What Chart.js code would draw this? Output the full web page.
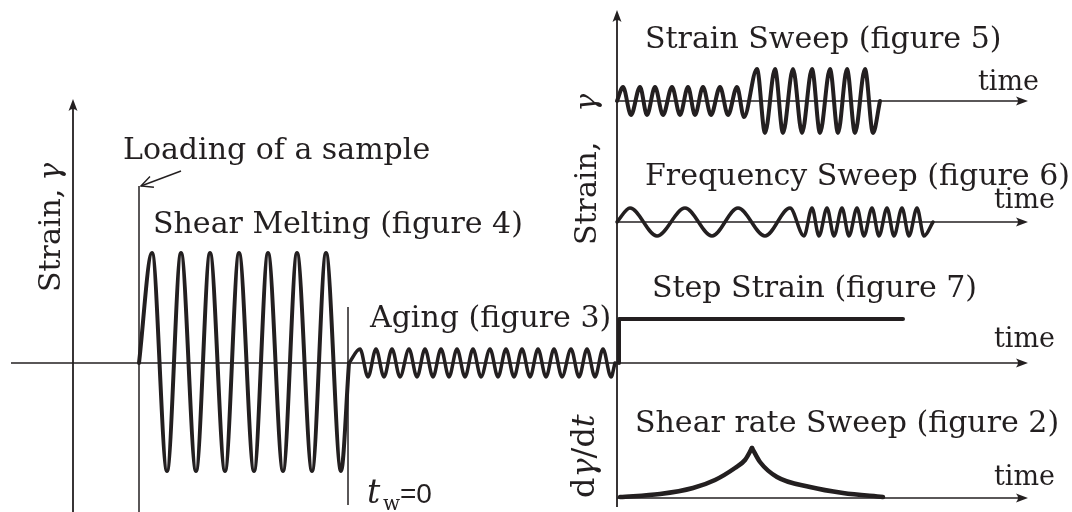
<!DOCTYPE html>
<html>
<head>
<meta charset="utf-8">
<script src="https://cdn.jsdelivr.net/npm/chart.js@4/dist/chart.umd.min.js"></script>
<style>
  html, body { margin: 0; padding: 0; background: #fff; }
  #wrap { width: 1072px; height: 512px; }
</style>
</head>
<body>
<div id="wrap"><canvas id="protocol"></canvas></div>
<script>
// turning points of each strain programme: time, and the strain reached there
const meltTime = [139, 152, 167, 181, 196, 210, 225, 239, 254, 268, 283, 297, 312, 326, 341, 349];
const meltStrain = [0, 110, -108, 110, -108, 110, -108, 110, -108, 110, -108, 110, -108, 110, -108, 0];

const agingTime = [349, 360, 368, 376, 384, 392, 400, 409, 417, 425, 433, 441, 449, 457, 465, 473, 481,
  490, 498, 506, 514, 522, 530, 538, 546, 554, 562, 571, 579, 587, 595, 603, 611, 615];
const agingStrain = [0, 14, -14, 14, -14, 14, -14, 14, -14, 14, -14, 14, -14, 14, -14, 14, -14,
  14, -14, 14, -14, 14, -14, 14, -14, 14, -14, 14, -14, 14, -14, 14, -14, 0];

const sweepTime = [617, 623, 631, 640, 647, 655, 663, 672, 680, 688, 695, 703, 711, 720, 728, 737, 744,
  757, 765, 775, 783, 793, 802, 812, 820, 830, 838, 847, 855, 865, 873, 880];
const sweepStrain = [0, 14, -14, 14, -14, 14, -14, 14, -14, 14, -14, 14, -14, 14, -14, 14, -16,
  32, -32, 32, -32, 32, -32, 32, -32, 32, -32, 32, -32, 32, -32, 0];

const freqTime = [617, 630, 657, 685, 712, 738, 765, 790, 804, 812, 819, 827, 834, 842, 849, 857, 864,
  872, 879, 887, 894, 902, 909, 917, 924, 933];
const freqStrain = [0, 14, -14, 14, -14, 14, -14, 14, -14, 14, -14, 14, -14, 14, -14, 14, -14,
  14, -14, 14, -14, 14, -14, 14, -14, 0];

const stepTime = [619, 619, 903];
const stepStrain = [0, 44, 44];

const rateRiseTime = [620, 660, 693, 715, 735, 745, 752];
const rateRise = [1, 4, 10, 18, 30, 38, 50];
const rateFallTime = [752, 760, 777, 810, 843, 883];
const rateFall = [50, 36, 21, 11, 5, 1];

const titles = ['Loading of a sample', 'Shear Melting (figure 4)', 'Aging (figure 3)',
  'Strain Sweep (figure 5)', 'Frequency Sweep (figure 6)', 'Step Strain (figure 7)',
  'Shear rate Sweep (figure 2)'];

const ink = '#231f20';
const serif = '"DejaVu Serif", serif';

const pts = (xs, ys) => xs.map((x, i) => ({ x: x, y: ys[i] }));

function wave(xs, ys, axis, width, smooth) {
  return {
    data: pts(xs, ys),
    yAxisID: axis,
    borderColor: ink,
    borderWidth: width,
    borderCapStyle: 'round',
    borderJoinStyle: 'round',
    pointRadius: 0,
    fill: false,
    cubicInterpolationMode: smooth ? 'monotone' : 'default',
    tension: 0,
  };
}

function arrowHead(ctx, x, y, angle) {
  ctx.save();
  ctx.translate(x, y);
  ctx.rotate(angle);
  ctx.beginPath();
  ctx.moveTo(0, 0);
  ctx.lineTo(-12, -4.5);
  ctx.quadraticCurveTo(-8, 0, -12, 4.5);
  ctx.closePath();
  ctx.fill();
  ctx.restore();
}

// axes, the loading marker and the t_w = 0 marker
const axesPlugin = {
  id: 'axes',
  beforeDatasetsDraw(chart) {
    const ctx = chart.ctx;
    const px = v => chart.scales.x.getPixelForValue(v);
    const py = (id, v) => chart.scales[id].getPixelForValue(v);
    const seg = (x1, y1, x2, y2, w) => {
      ctx.lineWidth = w;
      ctx.beginPath();
      ctx.moveTo(x1, y1);
      ctx.lineTo(x2, y2);
      ctx.stroke();
    };
    ctx.save();
    ctx.strokeStyle = ink;
    ctx.fillStyle = ink;
    ctx.lineCap = 'butt';

    // left strain axis and shared time axis
    seg(px(11), py('yMain', 0), px(1020), py('yMain', 0), 1.5);
    arrowHead(ctx, px(1028), py('yMain', 0), 0);
    seg(px(73), py('yMain', -149), px(73), py('yMain', 258), 1.8);
    arrowHead(ctx, px(73), py('yMain', 264), -Math.PI / 2);

    // loading of the sample and start of aging
    seg(px(139), py('yMain', -149), px(139), py('yMain', 177), 1.5);
    seg(px(348), py('yMain', 56), px(348), py('yMain', -142), 1.5);
    seg(px(181), py('yMain', 192), px(141), py('yMain', 177), 1.4);
    const ang = Math.atan2(py('yMain', 177) - py('yMain', 192), px(141) - px(181));
    ctx.lineWidth = 1.4;
    ctx.beginPath();
    ctx.moveTo(px(141) - 13 * Math.cos(ang - 0.45), py('yMain', 177) - 13 * Math.sin(ang - 0.45));
    ctx.lineTo(px(141), py('yMain', 177));
    ctx.lineTo(px(141) - 13 * Math.cos(ang + 0.45), py('yMain', 177) - 13 * Math.sin(ang + 0.45));
    ctx.stroke();

    // right hand panels
    seg(px(617), py('yRate', -9), px(617), py('ySweep', 86), 1.8);
    arrowHead(ctx, px(617), py('ySweep', 91), -Math.PI / 2);
    ['ySweep', 'yFreq', 'yRate'].forEach(id => {
      seg(px(617), py(id, 0), px(1020), py(id, 0), 1.5);
      arrowHead(ctx, px(1028), py(id, 0), 0);
    });
    ctx.restore();
  },
  afterDatasetsDraw(chart) {
    const ctx = chart.ctx;
    ctx.save();
    ctx.fillStyle = ink;
    ctx.textBaseline = 'alphabetic';
    ctx.textAlign = 'left';

    ctx.font = '30px ' + serif;
    ctx.fillText(titles[0], 123, 159);
    ctx.fillText(titles[1], 153, 233);
    ctx.fillText(titles[2], 370, 327);
    ctx.fillText(titles[3], 645, 48);
    ctx.fillText(titles[4], 645, 185);
    ctx.fillText(titles[5], 652, 297);
    ctx.fillText(titles[6], 635, 432);

    ctx.font = '27px ' + serif;
    ctx.fillText('time', 978, 90);
    ctx.fillText('time', 994, 208);
    ctx.fillText('time', 994, 347);
    ctx.fillText('time', 994, 485);

    // rotated axis titles, built from upright and italic pieces
    const vertical = (x, y, size, parts) => {
      ctx.save();
      ctx.translate(x, y);
      ctx.rotate(-Math.PI / 2);
      let off = 0;
      parts.forEach(p => {
        ctx.font = (p[1] ? 'italic ' : '') + size + 'px ' + serif;
        ctx.fillText(p[0], off, 0);
        off += ctx.measureText(p[0]).width + (p[2] || 0);
      });
      ctx.restore();
    };
    vertical(60, 292, 30, [['Strain,', false, 8], ['\u03b3', true]]);
    vertical(596, 245, 30, [['Strain,', false, 30], ['\u03b3', true]]);
    vertical(594, 498, 32, [['d', false], ['\u03b3', true], ['/d', false], ['t', true]]);

    // t_w = 0
    ctx.font = 'italic 33px ' + serif;
    ctx.fillText('t', 367, 503);
    ctx.font = '20px ' + serif;
    ctx.fillText('w', 383, 510);
    ctx.font = '28px "Liberation Sans", sans-serif';
    ctx.fillText('=0', 400, 503);
    ctx.restore();
  }
};

new Chart(document.getElementById('protocol'), {
  type: 'line',
  data: {
    datasets: [
      wave(meltTime, meltStrain, 'yMain', 4, true),
      wave(agingTime, agingStrain, 'yMain', 3.5, true),
      wave(sweepTime, sweepStrain, 'ySweep', 4, true),
      wave(freqTime, freqStrain, 'yFreq', 3.5, true),
      wave(stepTime, stepStrain, 'yMain', 4, false),
      wave(rateRiseTime, rateRise, 'yRate', 4.5, true),
      wave(rateFallTime, rateFall, 'yRate', 4.5, true),
    ],
  },
  options: {
    responsive: true,
    maintainAspectRatio: false,
    animation: false,
    layout: { padding: 0 },
    plugins: {
      legend: { display: false },
      tooltip: { enabled: false },
    },
    scales: {
      x: { type: 'linear', min: 0, max: 1072, display: false },
      yMain: { type: 'linear', min: -149, max: 363, display: false },
      ySweep: { type: 'linear', min: -411, max: 101, display: false },
      yFreq: { type: 'linear', min: -290, max: 222, display: false },
      yRate: { type: 'linear', min: -14, max: 498, display: false },
    },
  },
  plugins: [axesPlugin],
});
</script>
</body>
</html>
